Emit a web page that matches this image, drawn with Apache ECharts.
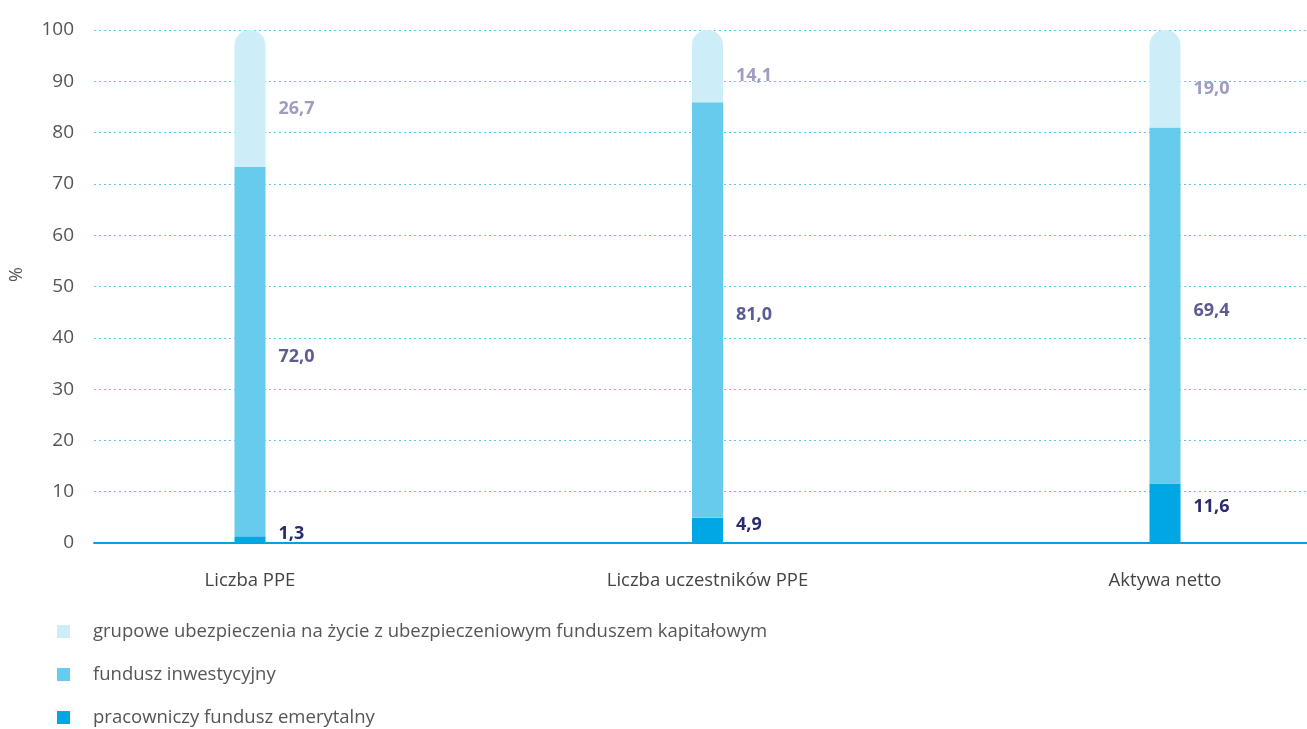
<!DOCTYPE html>
<html><head><meta charset="utf-8">
<script src="https://cdn.jsdelivr.net/npm/echarts@6/dist/echarts.min.js"></script>
<style>html,body{margin:0;padding:0;background:#fff}#c{width:1307px;height:729px}</style>
</head><body><div id="c"></div>
<script>
const categories = ['Liczba PPE', 'Liczba uczestników PPE', 'Aktywa netto'];
const seriesNames = [
  'grupowe ubezpieczenia na życie z ubezpieczeniowym funduszem kapitałowym',
  'fundusz inwestycyjny',
  'pracowniczy fundusz emerytalny'
];
const pfe = [1.3, 4.9, 11.6];
const fi = [72.0, 81.0, 69.4];
const gu = [26.7, 14.1, 19.0];
const yTicks = [0, 10, 20, 30, 40, 50, 60, 70, 80, 90, 100];

const fmt = p => p.value.toFixed(1).replace('.', ',');
const font = '"Open Sans", "Noto Sans", sans-serif';
const lbl = (color, dy) => ({
  show: true, position: 'right', distance: 13, offset: [0, dy],
  formatter: fmt, color, fontWeight: 'bold', fontSize: 18, fontFamily: font
});

const chart = echarts.init(document.getElementById('c'));
chart.setOption({
  animation: false,
  textStyle: { fontFamily: font },
  grid: [
    { left: 92, right: 0, top: 30, bottom: 186 },
    { left: 250, right: 142, top: 30, bottom: 186 }
  ],
  legend: {
    orient: 'vertical', left: 52, top: 617, height: 115, itemWidth: 13, itemHeight: 13,
    itemGap: 24, icon: 'rect',
    data: seriesNames,
    textStyle: { color: '#555', fontSize: 18.5, fontFamily: font, padding: [0, 0, 0, 18] }
  },
  xAxis: [
    { type: 'category', gridIndex: 0, data: categories, axisLabel: { show: false },
      axisTick: { show: false }, axisLine: { lineStyle: { color: '#00a3e0', width: 2 } } },
    { type: 'category', gridIndex: 1, data: categories, boundaryGap: false,
      axisLine: { show: false }, axisTick: { show: false },
      axisLabel: { color: '#444', fontSize: 18.5, margin: 28, fontFamily: font } }
  ],
  yAxis: [
    { type: 'value', gridIndex: 0, min: 0, max: 100, interval: 10,
      name: '%', nameLocation: 'middle', nameGap: 68, nameRotate: 90,
      nameTextStyle: { color: '#555', fontSize: 18, padding: [0, 0, 0, 24] },
      axisLabel: { color: '#555', fontSize: 19, margin: 20,
        formatter: v => yTicks.includes(v) ? String(v) : '' },
      axisLine: { show: false }, axisTick: { show: false },
      splitLine: { lineStyle: { color: '#5bc8ec', type: [2, 3], width: 1 } } },
    { type: 'value', gridIndex: 1, min: 0, max: 100, show: false, splitLine: { show: false } }
  ],
  series: [
    { name: seriesNames[2], type: 'bar', stack: 's', xAxisIndex: 1, yAxisIndex: 1,
      barWidth: 31, data: pfe, itemStyle: { color: '#00a7e2' }, label: lbl('#2b2b6f', -6) },
    { name: seriesNames[1], type: 'bar', stack: 's', xAxisIndex: 1, yAxisIndex: 1,
      barWidth: 31, data: fi, itemStyle: { color: '#67cbee' }, label: lbl('#5c5c94', 5) },
    { name: seriesNames[0], type: 'bar', stack: 's', xAxisIndex: 1, yAxisIndex: 1,
      barWidth: 31, data: gu, itemStyle: { color: '#cdeef9', borderRadius: [15, 15, 0, 0] },
      label: lbl('#9d9cc2', 10) }
  ]
});
</script></body></html>
